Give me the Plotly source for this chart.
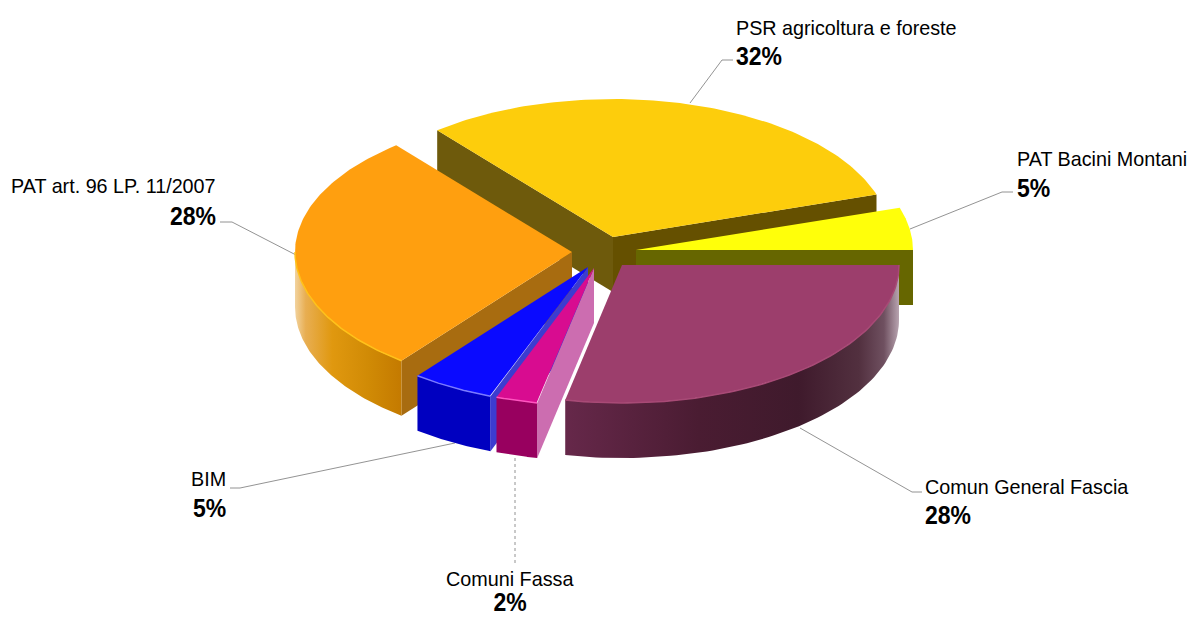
import json
import numpy as np
import plotly.graph_objects as go

# ---- data -----------------------------------------------------------------
categories = ["PSR agricoltura e foreste", "PAT Bacini Montani", "Comun General Fascia",
              "Comuni Fassa", "BIM", "PAT art. 96 LP. 11/2007"]
percent_labels = ["32%", "5%", "28%", "2%", "5%", "28%"]
slice_shares = [30.95, 5.0, 28.28, 2.44, 4.83, 28.5]   # apparent share of the drawn ellipse

# ---- style ----------------------------------------------------------------
top_colors = ["#fdcd0c", "#ffff0a", "#9c3e6c", "#d80c90", "#0a0aff", "#ff9f0f"]
rim_colors = [None, None, "#a84a76", "#ff55c0", "#7a7aff", "#ffc21a"]
start_faces = ["#6e5a0c", None, None, "#cc6db0", "#3c3cd0", "#a86c10"]
end_faces = ["#655000", "#666600", None, None, None, None]
wall_scales = [
    None,
    None,
    [[0, "#66284a"], [0.4, "#4a1c32"], [0.7, "#3f1a2c"], [0.88, "#52303f"],
     [0.955, "#6f5060"], [1, "#b8a4b0"]],
    [[0, "#98005f"], [1, "#98005f"]],
    [[0, "#0000c0"], [1, "#0000c0"]],
    [[0, "#f2d39f"], [0.1, "#e8ae52"], [0.35, "#e0980f"], [0.7, "#d08a05"], [1, "#c47a00"]],
]
draw_order = [0, 1, 5, 4, 3, 2]
base_center = (600, 255)
explode_x = [13, 36, 22, -6, -12, -28]
explode_y = [-18, -5, 10, 13, 12, -3]
RX, RY, DEPTH = 277, 138, 55
START_ANGLE = -39.4

text_font = "Liberation Sans"
label_size, pct_size = 21, 25
label_squeeze, pct_squeeze = 0.94, 0.92
# x of name, y of name, x of percent, y of percent, anchor
label_pos = [(736, 27, 736, 56, "left"), (1017, 158, 1017, 188, "left"), (925, 486, 925, 515, "left"),
             (510, 578, 510, 602, "center"), (191, 478, 193, 508, "left"), (216, 185, 216, 216, "right")]
leaders = [
    ([690, 722, 733], [103, 60, 60], "solid"),
    ([910, 1002, 1013], [229, 192, 192], "solid"),
    ([800, 912, 922], [428, 492, 492], "solid"),
    ([515, 515], [458, 565], "dot"),
    ([455, 240, 230], [443, 488, 488], "solid"),
    ([296, 232, 220], [255, 222, 222], "solid"),
]

# ---- geometry from the shares ---------------------------------------------
shares = np.array(slice_shares)
edges = START_ANGLE + np.concatenate([[0], np.cumsum(shares)]) / shares.sum() * 360


def point(c, theta):
    t = np.radians(theta)
    return c[0] + RX * np.sin(t), c[1] - RY * np.cos(t)


fig = go.Figure()


def poly(xs, ys, color=None, gradient=None):
    kw = dict(fillcolor=color) if gradient is None else dict(
        fillgradient=dict(type="horizontal", colorscale=gradient))
    fig.add_trace(go.Scatter(x=list(xs), y=list(ys), mode="lines", fill="toself",
                             line=dict(width=0), hoverinfo="skip", showlegend=False, **kw))


for xs, ys, dash in leaders:
    fig.add_trace(go.Scatter(x=xs, y=ys, mode="lines", line=dict(color="#777777", width=0.8, dash=dash),
                             hoverinfo="skip", showlegend=False))

for i in draw_order:
    c = (base_center[0] + explode_x[i], base_center[1] + explode_y[i])
    a0, a1 = edges[i], edges[i + 1]
    # cut faces
    for ang, col in ((a0, start_faces[i]), (a1, end_faces[i])):
        if col:
            ox, oy = point(c, ang)
            poly([c[0], ox, ox, c[0]], [c[1], oy, oy + DEPTH, c[1] + DEPTH], col)
    # outer wall
    lo, hi = max(a0, 90), min(a1, 270)
    if wall_scales[i] and hi > lo:
        th = np.linspace(lo, hi, 80)
        ax, ay = point(c, th)
        poly(np.r_[ax, ax[::-1]], np.r_[ay, ay[::-1] + DEPTH], gradient=wall_scales[i])
    # top
    th = np.linspace(a0, a1, 120)
    ax, ay = point(c, th)
    poly(np.r_[c[0], ax], np.r_[c[1], ay], top_colors[i])
    if rim_colors[i] and hi > lo:
        rx_, ry_ = point(c, np.linspace(lo, hi, 80))
        fig.add_trace(go.Scatter(x=rx_, y=ry_, mode="lines", line=dict(color=rim_colors[i], width=1.5),
                                 hoverinfo="skip", showlegend=False))

# ---- labels ---------------------------------------------------------------
anchors = []


def note(x, y, text, anchor, bold):
    anchors.append([anchor, pct_squeeze if bold else label_squeeze])
    fig.add_annotation(x=x, y=y, text=f"<b>{text}</b>" if bold else text, showarrow=False,
                       xanchor=anchor, yanchor="middle", xref="x", yref="y",
                       borderpad=0, borderwidth=0,
                       font=dict(family=text_font, size=pct_size if bold else label_size, color="#000000"))


for i, (name, pct) in enumerate(zip(categories, percent_labels)):
    x1, y1, x2, y2, anchor = label_pos[i]
    note(x1, y1, name, anchor, False)
    note(x2, y2, pct, anchor, True)

fig.update_layout(
    width=1199, height=617, margin=dict(l=0, r=0, t=0, b=0),
    paper_bgcolor="#ffffff", plot_bgcolor="#ffffff", showlegend=False,
    xaxis=dict(range=[0, 1199], visible=False, fixedrange=True),
    yaxis=dict(range=[617, 0], visible=False, fixedrange=True),
)

# The reference text is slightly condensed: squeeze the real SVG text to the same width.
post = """
document.body.style.margin='0';
document.documentElement.style.overflow='hidden';
var spec=%s;
document.querySelectorAll('.annotation').forEach(function(g){
  var i=+g.getAttribute('data-index'), t=g.querySelector('text.annotation-text');
  if(!t||!spec[i])return;
  var b=t.getBBox(), a=spec[i][0], s=spec[i][1];
  if(a==='left'){t.setAttribute('text-anchor','start');t.setAttribute('x',b.x);}
  if(a==='right'){t.setAttribute('text-anchor','end');t.setAttribute('x',b.x+b.width);}
  t.setAttribute('textLength',b.width*s);
  t.setAttribute('lengthAdjust','spacingAndGlyphs');
});
""" % json.dumps(anchors)
fig.write_html("out.html", config=dict(displayModeBar=False), post_script=post)
